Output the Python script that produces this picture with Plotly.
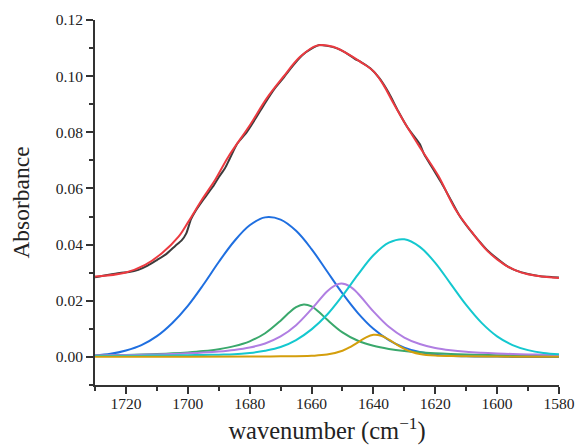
import plotly.graph_objects as go

# Measured amide I band (absorbance vs wavenumber)
meas_wn = [1730, 1726, 1722, 1719, 1716, 1713, 1710, 1707, 1704, 1702, 1700.5, 1699,
           1697.5, 1695, 1692, 1690, 1688, 1686.5, 1684, 1681, 1678, 1675, 1672, 1669,
           1666, 1663, 1660, 1657.5, 1655, 1652, 1649, 1646, 1644, 1641, 1638, 1635,
           1632, 1629, 1627, 1625, 1623.5, 1621, 1618, 1615, 1612, 1609, 1606, 1603,
           1600, 1597, 1594, 1590, 1586, 1582, 1580]
meas_abs = [0.0284, 0.0292, 0.0299, 0.0302, 0.0310, 0.0325, 0.0345, 0.0366, 0.0396, 0.0415,
            0.0440, 0.0490, 0.0520, 0.0560, 0.0605, 0.0640, 0.0672, 0.0705, 0.0760, 0.0800,
            0.0851, 0.0905, 0.0955, 0.0995, 0.1038, 0.1075, 0.1098, 0.1111, 0.1108, 0.1100,
            0.1084, 0.1062, 0.1050, 0.1028, 0.0992, 0.0940, 0.0876, 0.0818, 0.0788, 0.0758,
            0.0720, 0.0675, 0.0620, 0.0560, 0.0500, 0.0455, 0.0415, 0.0378, 0.0350, 0.0325,
            0.0308, 0.0295, 0.0287, 0.0284, 0.0283]

# Cumulative fit
fit_wn = [1730, 1720.3, 1713.8, 1708.4, 1703, 1699.8, 1695.5, 1691.2, 1686.9, 1679.9,
          1674.5, 1669.1, 1663.7, 1658.3, 1653, 1647.6, 1644.3, 1640, 1636.8, 1633.6,
          1629.8, 1624.4, 1619, 1613.6, 1608.2, 1602.9, 1597.5, 1592.1, 1586.7, 1580]
fit_abs = [0.0286, 0.0300, 0.0328, 0.0369, 0.0428, 0.0482, 0.0559, 0.0630, 0.0713, 0.0826,
           0.0921, 0.0998, 0.1069, 0.1109, 0.1105, 0.1075, 0.1052, 0.1018, 0.0970, 0.0905,
           0.0832, 0.0737, 0.0645, 0.0528, 0.0445, 0.0375, 0.0328, 0.0300, 0.0288, 0.0281]

# Fitted component bands
grid = [1730, 1725, 1720, 1715, 1710, 1705, 1700, 1695, 1690, 1685, 1680, 1675, 1670,
        1665, 1660, 1655, 1650, 1645, 1640, 1635, 1630, 1625, 1620, 1615, 1610, 1605,
        1600, 1595, 1590, 1585, 1580]

band1_abs = [0.0005, 0.0011, 0.0023, 0.0042, 0.0074, 0.0121, 0.0182, 0.0257, 0.0338,
             0.0412, 0.0469, 0.0497, 0.0489, 0.0449, 0.0384, 0.0305, 0.0226, 0.0156,
             0.0100, 0.0060, 0.0033, 0.0017, 0.0008, 0.0004, 0.0002, 0.0001, 0.0001,
             0.0000, 0.0000, 0.0000, 0.0000]

band2_wn = [1730, 1725, 1720, 1715, 1710, 1705, 1700, 1695, 1690, 1685, 1680, 1675,
            1670, 1667.5, 1665, 1662.5, 1660, 1657.5, 1655, 1650, 1645, 1640, 1635,
            1630, 1625, 1620, 1615, 1610, 1605, 1600, 1595, 1590, 1585, 1580]
band2_abs = [0.00052, 0.00061, 0.00071, 0.00085, 0.00103, 0.00126, 0.00159, 0.00206,
             0.00275, 0.00382, 0.00555, 0.00843, 0.0129, 0.0155, 0.0177, 0.0187, 0.0180,
             0.0159, 0.0133, 0.00872, 0.00573, 0.00393, 0.00282, 0.00210, 0.00162,
             0.00129, 0.00104, 0.00086, 0.00072, 0.00062, 0.00053, 0.00046, 0.00041,
             0.00036]

band3_wn = [1730, 1725, 1720, 1715, 1710, 1705, 1700, 1695, 1690, 1685, 1680, 1675,
            1670, 1665, 1660, 1655, 1652.5, 1650.3, 1647.5, 1645, 1640, 1635, 1630,
            1625, 1620, 1615, 1610, 1605, 1600, 1595, 1590, 1585, 1580]
band3_abs = [0.00051, 0.00058, 0.00066, 0.00076, 0.00089, 0.00105, 0.00126, 0.00153,
             0.00190, 0.00246, 0.00333, 0.00478, 0.00727, 0.01128, 0.0170, 0.0233,
             0.0254, 0.0261, 0.0250, 0.0226, 0.0162, 0.0107, 0.0069, 0.00457, 0.00319,
             0.00238, 0.00184, 0.00149, 0.00123, 0.00103, 0.00087, 0.00075, 0.00065]

band4_abs = [0.0003, 0.0003, 0.0004, 0.0004, 0.0005, 0.0005, 0.0006, 0.0007, 0.0008,
             0.0009, 0.0014, 0.0022, 0.0035, 0.0060, 0.0098, 0.0150, 0.0218, 0.0293,
             0.0362, 0.0407, 0.0419, 0.0392, 0.0335, 0.0260, 0.0185, 0.0121, 0.0073,
             0.0042, 0.0024, 0.0014, 0.0009]

band5_wn = [1730, 1700, 1680, 1670, 1660, 1655, 1650, 1647.5, 1645, 1642.5, 1640,
            1637.5, 1635, 1632.5, 1630, 1627.5, 1625, 1620, 1615, 1610, 1600, 1590, 1580]
band5_abs = [0.00002, 0.00005, 0.0001, 0.00018, 0.00039, 0.00081, 0.0022, 0.0035,
             0.0052, 0.00685, 0.00785, 0.00754, 0.00615, 0.00442, 0.00288, 0.00176,
             0.00106, 0.00046, 0.00027, 0.00019, 0.00011, 0.00007, 0.00005]

x_ticks = [1720, 1700, 1680, 1660, 1640, 1620, 1600, 1580]
x_minor = [1730, 1710, 1690, 1670, 1650, 1630, 1610, 1590]
y_ticks = [0.00, 0.02, 0.04, 0.06, 0.08, 0.10, 0.12]
y_minor = [-0.01, 0.01, 0.03, 0.05, 0.07, 0.09, 0.11]

fig = go.Figure()

components = [
    (grid, band1_abs, "#1f6fe0"),
    (band2_wn, band2_abs, "#3aa86c"),
    (band3_wn, band3_abs, "#b07ee2"),
    (grid, band4_abs, "#14c8cf"),
    (band5_wn, band5_abs, "#d49e0c"),
]
for xs, ys, col in components:
    fig.add_trace(go.Scatter(x=xs, y=ys, mode="lines",
                             line=dict(color=col, width=2, shape="spline", smoothing=1.0)))

fig.add_trace(go.Scatter(x=meas_wn, y=meas_abs, mode="lines",
                         line=dict(color="#3c3c3c", width=2, shape="spline", smoothing=0.6)))
fig.add_trace(go.Scatter(x=fit_wn, y=fit_abs, mode="lines",
                         line=dict(color="#ec3a40", width=2, shape="spline", smoothing=1.0)))

serif = "Times New Roman, Liberation Serif, serif"
axis_col = "#333333"
tick_font = dict(family=serif, size=15.5, color="#222222")

fig.update_layout(
    width=576, height=445,
    margin=dict(l=95, r=17, t=20, b=60),
    plot_bgcolor="white", paper_bgcolor="white",
    showlegend=False,
    font=dict(family=serif, color="#222222"),
    xaxis=dict(
        range=[1730.02, 1579.98], automargin=False,
        tickvals=x_ticks, ticktext=[str(v) for v in x_ticks],
        showline=True, linecolor=axis_col, linewidth=2,
        ticks="outside", ticklen=7, tickwidth=1.5, tickcolor=axis_col,
        minor=dict(tickvals=x_minor, ticks="outside", ticklen=4,
                   tickwidth=1.5, tickcolor=axis_col),
        showgrid=False, zeroline=False, tickfont=tick_font, ticklabelstandoff=-4,
        title=dict(text="wavenumber (cm<sup>−1</sup>)",
                   font=dict(family=serif, size=24.5, color="#222222"), standoff=14),
    ),
    yaxis=dict(
        range=[-0.01002, 0.12002], automargin=False,
        tickvals=y_ticks, ticktext=[f"{v:.2f}" for v in y_ticks],
        showline=True, linecolor=axis_col, linewidth=2,
        ticks="outside", ticklen=7, tickwidth=1.5, tickcolor=axis_col,
        minor=dict(tickvals=y_minor, ticks="outside", ticklen=4,
                   tickwidth=1.5, tickcolor=axis_col),
        showgrid=False, zeroline=False, tickfont=tick_font,
        title=dict(text="Absorbance",
                   font=dict(family=serif, size=23.5, color="#222222"), standoff=20),
    ),
)

fig.write_html("out.html")
